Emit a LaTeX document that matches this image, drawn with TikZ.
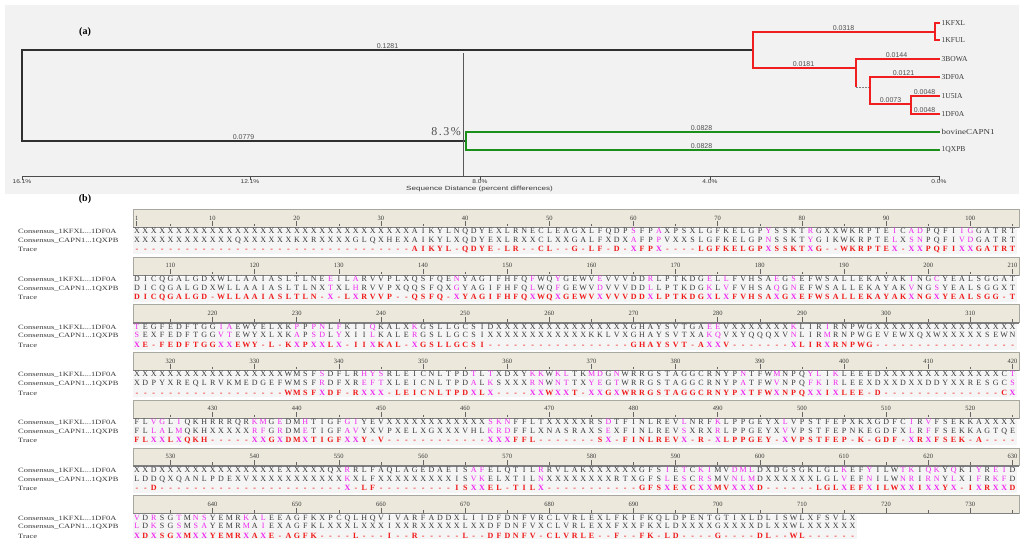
\documentclass[tikz,border=0pt]{standalone}
\usepackage{fontspec}
\setmainfont{Liberation Serif}
\newfontfamily\sansf{Liberation Sans}
\definecolor{panelbg}{HTML}{F2F2F2}
\definecolor{rulerbg}{HTML}{ECE9DC}
\definecolor{rowbg}{HTML}{F5F5F5}
\definecolor{sgray}{HTML}{383838}
\definecolor{smag}{HTML}{F024F0}
\definecolor{sred}{HTML}{F01818}
\definecolor{brred}{HTML}{F01E1E}
\definecolor{brgreen}{HTML}{1A901A}
\definecolor{brblack}{HTML}{303030}
\definecolor{lblgray}{HTML}{505050}
\definecolor{rulerline}{HTML}{A8A8A0}
\definecolor{rulerdark}{HTML}{808080}
\makeatletter
\newlength\seqchw \setlength\seqchw{8.42pt}
\def\seq@col{sgray}
\newcommand\seqrow[2]{\def\seq@col{#1}\seq@loop#2\@nil}
\def\seq@loop#1{\ifx#1\@nil\else\seq@char{#1}\expandafter\seq@loop\fi}
\def\seq@char#1{\hbox to\seqchw{\hss\ifnum`#1>96\relax\textcolor{smag}{\uppercase{#1}}\else\textcolor{\seq@col}{#1}\fi\hss}}
\makeatother
\newcommand\blkgap{47.7}
\tikzset{
  seqtext/.style={anchor=base west, inner sep=0pt, font=\fontsize{8}{9}\selectfont},
  tracetext/.style={anchor=base west, inner sep=0pt, font=\fontsize{8}{9}\selectfont\bfseries},
  rowlab/.style={anchor=base west, inner sep=0pt, font=\fontsize{6.5}{7}\selectfont, text=sgray},
  ticklab/.style={inner sep=0pt, font=\fontsize{6.5}{7}\selectfont, text=sgray},
  tickline/.style={draw=gray!80!black, line width=0.5pt},
  blackbr/.style={draw=brblack, line width=1.8pt},
  redbr/.style={draw=brred, line width=2.2pt},
  greenbr/.style={draw=brgreen, line width=2pt},
  dotbr/.style={draw=gray, line width=0.6pt, dash pattern=on 1.5pt off 1.5pt},
  markline/.style={draw=gray!70!black, line width=1.4pt},
  axisline/.style={draw=gray!60!black, line width=0.8pt},
  blab/.style={inner sep=0pt, anchor=south, font=\sansf\fontsize{7}{8}\selectfont, text=lblgray},
  axlab/.style={inner sep=0pt, anchor=north, font=\sansf\fontsize{5.5}{6}\selectfont, text=sgray},
  leaf/.style={anchor=west, inner xsep=1.5pt, inner ysep=0pt, font=\fontsize{7.5}{9}\selectfont, text=sgray},
  panellab/.style={inner sep=0pt, font=\bfseries\fontsize{10}{12}\selectfont}
}
\newcommand\seqblock[5]{%
  \pgfmathsetmacro\yb{209.3+(#1-1)*\blkgap}%
  \fill[rowbg] (133,\yb+19.5) rectangle (#2,\yb+45);
  \node[rowlab] (la#1) at (18,\yb+24.5) {\scalebox{1.3}[1]{Consensus\_1KFXL...1DF0A}};
  \node[rowlab] (lb#1) at (18,\yb+33.2) {\scalebox{1.3}[1]{Consensus\_CAPN1...1QXPB}};
  \node[rowlab] (lc#1) at (18,\yb+42.6) {\scalebox{1.3}[1]{Trace}};
  \node[seqtext] (sa#1) at (132.5,\yb+24.5) {\seqrow{sgray}{#3}};
  \node[seqtext] (sb#1) at (132.5,\yb+33.2) {\seqrow{sgray}{#4}};
  \node[tracetext] (sc#1) at (132.5,\yb+42.6) {\seqrow{sred}{#5}};
}
\begin{document}
\begin{tikzpicture}[x=1pt,y=-1pt]
\useasboundingbox[fill=white] (0,0) rectangle (1024,538);
% ---------- panel (a)
\fill[panelbg] (5,5) rectangle (1019,194);
\node[panellab] (pa) at (85,32) {(a)};
\node[leaf] (L1) at (940,23) {1KFXL};
\node[leaf] (L2) at (940,40) {1KFUL};
\node[leaf] (L3) at (940,59) {3BOWA};
\node[leaf] (L4) at (940,77) {3DF0A};
\node[leaf] (L5) at (940,96) {1U5IA};
\node[leaf] (L6) at (940,114) {1DF0A};
\node[leaf] (L7) at (940,132) {\scalebox{1.2}[1]{bovineCAPN1}};
\node[leaf] (L8) at (940,150) {1QXPB};
\coordinate (rootB) at (22,141);
\coordinate (nA) at (753,50);
\coordinate (nK) at (935,32);
\coordinate (nB3) at (856,68);
\coordinate (nB3b) at (856,87);
\coordinate (nD) at (870,87);
\coordinate (nU) at (911,104);
\coordinate (nG) at (466,141);
\coordinate (mT) at (463.5,53);
\coordinate (mB) at (463.5,176);
\draw[blackbr] (nA) -| (rootB) -- (nG);
\draw[markline] (mT) -- (mB);
\draw[redbr] (nK) -| (nA) |- (nB3);
\draw[redbr] (L1.west) -| (nK) |- (L2.west);
\draw[redbr] (L3.west) -| (nB3b);
\draw[dotbr] (nB3b) -- (nD);
\draw[redbr] (L4.west) -| (nD) |- (nU);
\draw[redbr] (L5.west) -| (nU) |- (L6.west);
\draw[greenbr] (L7.west) -| (nG) |- (L8.west);
\node[blab] (e1) at (387.5,49) {0.1281};
\node[blab] (e2) at (243.5,140) {0.0779};
\node[blab] (e3) at (843.5,31) {0.0318};
\node[blab] (e4) at (803.5,67) {0.0181};
\node[blab] (e5) at (896.5,58) {0.0144};
\node[blab] (e6) at (903.5,76) {0.0121};
\node[blab] (e7) at (890.5,103) {0.0073};
\node[blab] (e8) at (924.5,95) {0.0048};
\node[blab] (e9) at (924.5,113) {0.0048};
\node[blab] (e10) at (701.5,131) {0.0828};
\node[blab] (e11) at (701.5,149) {0.0828};
\node[anchor=east, inner sep=0pt, text=lblgray, font=\fontsize{12}{13}\selectfont\addfontfeature{LetterSpace=12}] (pct) at (461,132) {8.3\%};
\coordinate (ax0) at (22,176);
\coordinate (ax4) at (940,176);
\draw[axisline] (ax0) -- (ax4);
\foreach \xx/\tt [count=\i] in {22/16.1, 250/12.1, 480/8.0, 710/4.0, 939/0.0}{
  \draw[axisline] (\xx,176) -- (\xx,179.5);
  \node[axlab] (ax\i) at (\xx,179.5) {\scalebox{1.2}[1]{\tt\%}};
}
\node[inner sep=0pt, font=\sansf\fontsize{6}{7}\selectfont, text=sgray] (axt) at (479.5,188.5) {\scalebox{1.35}[1]{Sequence Distance (percent differences)}};
% ---------- panel (b)
\node[panellab] (pb) at (85,199) {(b)};
\foreach \bk in {0,...,6}{
  \pgfmathsetmacro\yr{209.3+\bk*\blkgap}
  \fill[rulerbg] (133,\yr) rectangle (1019,\yr+18.5);
  \draw[draw=rulerline, line width=0.6pt] (133,\yr+18.5) -- (133,\yr) -- (1019,\yr) -- (1019,\yr+18.5);
  \draw[draw=rulerdark, line width=1.3pt] (133,\yr+18.2) -- (1019,\yr+18.2);
}
\foreach \ab in {5,10,...,735}{
  \pgfmathtruncatemacro\bk{floor((\ab-1)/105)}
  \pgfmathsetmacro\xx{136.7+(\ab-\bk*105-1)*8.42}
  \pgfmathsetmacro\yy{209.3+\bk*\blkgap}
  \pgfmathtruncatemacro\mt{mod(\ab,10)}
  \ifnum\mt=0
    \draw[tickline] (\xx,\yy+12) -- (\xx,\yy+17);
    \node[ticklab] (tk\ab) at (\xx,\yy+8.6) {\ab};
  \else
    \draw[tickline] (\xx,\yy+14.5) -- (\xx,\yy+17);
  \fi
}
\draw[tickline] (136.7,221.3) -- (136.7,226.3);
\node[ticklab] (tk1) at (136.7,217.9) {1};
\seqblock{1}{1017}%
{XXXXXXXXXXXXXXXXXXXXXXXXXXXXXXXXXAIKYLNQDYEXLRNECLEAGXLFQDPsFPaXPSXLGFKELGPySSKTrGXXWKRPTEiCadPQFIigGATRT}%
{XXXXXXXXXXXXQXXXXXXKXRXXXXGLQXHEXAIKYLXQDYEXLRXXCLXXGALFXDXaFPpVXXSLGFKELGPnSSKTyGIKWKRPTElXsnPQFIvdGATRT}%
{---------------------------------AIKYL-QDYE-LR--CL--G-LF-D-xFPx----LGFKELGPxSSKTxG--WKRPTEx-xxPQFIxxGATRT}
\seqblock{2}{1017}%
{DICQGALGDXWLLAAIASLTLNEeILaRVVPLXQSFQEnYAGIFHFQfWQyGEWVeVVVDDrLPTKDGeLlFVHSAeGsEFWSALLEKAYAKiNGcYEALSGGAT}%
{DICQGALGDXWLLAAIASLTLNXtXLhRVVPXQQSFQXgYAGIFHFQlWQfGEWVdVVVDDlLPTKDGkLvFVHSAqGnEFWSALLEKAYAKvNGsYEALSGGXT}%
{DICQGALGD-WLLAAIASLTLN-x-LxRVVP--QSFQ-xYAGIFHFQxWQxGEWVxVVVDDxLPTKDGxLxFVHSAxGxEFWSALLEKAYAKxNGxYEALSGG-T}
\seqblock{3}{1017}%
{tEGFEDFTGGiaEWYELXKpPpnLfKIIqKALXkGSLLGCSIDXXXXXXXXXXXXXXXXGHAYSVTGAeeVXXXXXXXkLIRiRNPWGXXXXXXXXXXXXXXXXX}%
{sEXFEDFTGGvtEWYXLXKaPsdLyXIIlKALErGSLLGCSIXXXXXXXXXXXXKKLVXGHAYSVTXAkqVXYQQQXVnLIRmRNPWGEVEWXQXWXXXXXSEWN}%
{xE-FEDFTGGxxEWY-L-KxPxxLx-IIxKAL-xGSLLGCSI-----------------GHAYSVT-AxxV-------xLIRxRNPWG-----------------}
\seqblock{4}{1017}%
{XXXXXXXXXXXXXXXXXXWMSFsDFLRhysRLEICNLTPDtLtXDXYkkWklTKmdGnWRRGSTAGGCRNYPnTFWmNPQylIkLEEEDXXXXXXXXXXXXXXCt}%
{XDPYXREQLRVKMEDGEFWMSFrDFXReftXLEICNLTPDaLkSXXXrnWntTXyeGtWRRGSTAGGCRNYPaTFWvNPQfkIrLEEXDXXDXXDDYXXRESGCs}%
{------------------WMSFxDF-Rxxx-LEICNLTPDxLx----xxWxxT-xxGxWRRGSTAGGCRNYPxTFWxNPQxxIxLEE-D--------------Cx}
\seqblock{5}{1017}%
{FLvgLiQKHRRRQRkmGeDMhTIGFgiYEVXXXXXXXXXXXXsknFFLTXXXXXRSdTFINLREVlNRFkLPPGEYXlVPSTFEPXKXGDFCiRvFSEKKAXXXX}%
{FLlaLmQKHXXXXXrfGrDMeTIGFavYXVPXELXGXXXVHLkrdFFLXNASRAXSeXFINLREVsXRXrLPPGEYXvVPSTFEPNKEGDFXlRfFSEKKAGTQE}%
{FLxxLxQKH-----xxGxDMxTIGFxxY-V------------xxxFFL-------Sx-FINLREVx-R-xLPPGEY-xVPSTFEP-K-GDF-xRxFSEK-A----}
\seqblock{6}{1017}%
{XXDXXXXXXXXXXXXXXEXXXXXQXrRLFAQLAGEDAEISafELQTILrRVLAKXXXXXXGFSiEtCkiMVdmlDXDGSGKLGLkEFyILWtkIqkYqKIyReiD}%
{LDDQXQANLPDEXVXXXXXXXXXXXkXLFXXXXXXXXXISvkELXTILnXXXXXXXXRTXGFSlEsCrsMVnlmDXXXXXXLGLvEFnILWnrIrnYlXIfRkfD}%
{--D----------------------x-LF---------ISxxEL-TILx-----------GFSxExCxxMVxxxD------LGLxEFxILWxxIxxYx-IxRxxD}
\seqblock{7}{857}%
{vDrSGtMnsYEMRkAlEEAGFKXPCQLHQVIVARFADDXLIIDFDNFVRCLVRLEXLFKIFKQLDPENTGTIXLDLISWLXFSVLX}%
{lDkSGsMsaYEMRmAiEXAGFKLXXXLXXXIXXRXXXXXLXXDFDNFVXCLVRLEXXFXXFKXLDXXXXGXXXXDLXXWLXXXXXX}%
{xDxSGxMxxYEMRxAxE-AGFK----L---I--R-----L--DFDNFV-CLVRLE--F--FK-LD----G----DL--WL------}
\end{tikzpicture}
\end{document}
